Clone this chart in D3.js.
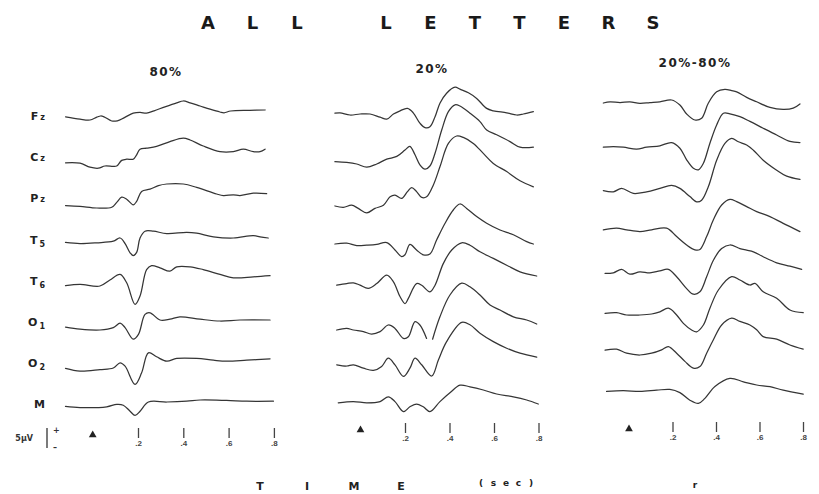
<!DOCTYPE html>
<html>
<head>
<meta charset="utf-8">
<title>All letters</title>
<style>
    html, body { margin: 0; background: #fff; }
    svg { display: block; font-family: "DejaVu Sans", "Liberation Sans", sans-serif; }
    .trace { fill: none; stroke: #353535; stroke-width: 1.25; stroke-linejoin: round; stroke-linecap: round; }
    .tick line { stroke: #444; stroke-width: 1.3; }
    .tick text { font-size: 8px; fill: #444; font-weight: bold; }
</style>
</head>
<body>
<svg id="chart" width="819" height="494"></svg>
<script src="https://cdn.jsdelivr.net/npm/d3@7"></script>
<script>
    "use strict";

    const channels = ["Fz", "Cz", "Pz", "T5", "T6", "O1", "O2", "M"];
    const conditions = ["80%", "20%", "20%-80%"];
    const timeTicks = [0.2, 0.4, 0.6, 0.8];
    const titleText = "ALL LETTERS";
    const axisText = ["T", "I", "M", "E"];
    const unitText = ["(", "s", "e", "c", ")"];

    // [time (s), amplitude (uV)] per channel, positive up
    const wave80 = [
        [[-0.12,0.3],[-0.056,-0.3],[-0.012,-0.5],[0.018,0.2],[0.035,0.5],[0.05,0.3],[0.084,-0.75],[0.109,-0.7],[0.14,0.1],[0.179,1.2],[0.209,1.4],[0.238,1.2],[0.271,1.8],[0.319,2.8],[0.371,3.8],[0.40,4.25],[0.43,3.8],[0.474,3.0],[0.518,2.2],[0.562,1.5],[0.58,1.3],[0.609,1.75],[0.694,1.9],[0.761,2.0]],
        [[-0.12,-0.9],[-0.056,-1.0],[-0.012,-2.0],[0.025,-2.25],[0.054,-1.7],[0.091,-1.8],[0.106,-1.7],[0.128,-0.3],[0.15,0],[0.179,0],[0.194,1.1],[0.209,2.5],[0.238,2.75],[0.282,3.2],[0.341,4.4],[0.40,5.25],[0.43,4.8],[0.488,3.3],[0.562,1.9],[0.621,1.9],[0.665,2.5],[0.709,1.9],[0.739,1.9],[0.761,2.5]],
        [[-0.12,-1.3],[-0.056,-1.5],[0.018,-1.9],[0.084,-1.7],[0.106,-0.5],[0.128,0.8],[0.15,0.3],[0.179,-1.1],[0.194,-0.25],[0.216,2.25],[0.253,2.8],[0.29,3.7],[0.327,4.1],[0.40,4.1],[0.459,3.25],[0.547,1.6],[0.577,1.2],[0.621,1.4],[0.65,1.2],[0.709,1.8],[0.768,1.7]],
        [[-0.12,-0.2],[-0.056,-0.5],[0.018,-0.3],[0.091,0.1],[0.121,0.9],[0.143,-0.5],[0.165,-2.8],[0.179,-3.5],[0.194,-2.7],[0.209,0.9],[0.231,2.6],[0.268,2.6],[0.327,2.0],[0.415,2.3],[0.459,2.1],[0.533,1.2],[0.621,0.9],[0.709,1.5],[0.739,1.2],[0.775,0.9]],
        [[-0.12,-0.7],[-0.056,-0.4],[0.032,-0.8],[0.076,0.7],[0.121,2.1],[0.15,0],[0.187,-5.4],[0.209,-3.3],[0.238,3.3],[0.26,4.3],[0.297,3.75],[0.341,2.9],[0.371,4.0],[0.43,4.0],[0.488,3.3],[0.562,2.1],[0.621,1.25],[0.709,1.5],[0.783,1.8]],
        [[-0.12,-0.8],[-0.056,-1.3],[0.032,-1.5],[0.091,-0.9],[0.121,0.2],[0.143,-0.9],[0.179,-3.8],[0.202,-2.6],[0.231,2.4],[0.253,2.8],[0.297,1.0],[0.341,1.2],[0.385,1.8],[0.474,1.2],[0.562,0.75],[0.65,1.0],[0.783,1.0]],
        [[-0.12,-0.8],[-0.056,-1.5],[0.032,-1.1],[0.091,-0.7],[0.121,0.6],[0.143,-0.25],[0.187,-4.8],[0.216,-1.9],[0.246,3.1],[0.282,2.1],[0.327,1.0],[0.371,1.7],[0.459,1.7],[0.533,1.25],[0.591,1.0],[0.68,1.25],[0.783,1.6]],
        [[-0.12,0],[-0.056,-0.3],[0.062,-0.1],[0.106,0.5],[0.135,0.3],[0.165,-1.2],[0.187,-2.25],[0.209,-1.2],[0.246,1.1],[0.327,1.1],[0.415,1.3],[0.474,1.6],[0.591,1.5],[0.68,1.3],[0.798,1.3]]
    ];

    const wave20 = [
        [[-0.115,1.2],[-0.092,1.3],[-0.047,0.75],[-0.002,1.0],[0.043,1.0],[0.088,0.2],[0.118,-0.3],[0.148,1.0],[0.178,1.8],[0.211,2.4],[0.237,1.3],[0.267,-1.3],[0.29,-2.4],[0.312,-2.2],[0.335,0.3],[0.357,3.7],[0.387,6.2],[0.425,7.7],[0.447,7.2],[0.485,6.3],[0.522,4.9],[0.567,2.4],[0.597,1.8],[0.657,1.3],[0.702,0.75],[0.732,1.0],[0.777,1.6]],
        [[-0.115,-0.6],[-0.062,-0.8],[-0.017,-1.2],[0.028,-2.0],[0.073,-1.2],[0.118,0],[0.163,0.7],[0.2,2.3],[0.222,3.2],[0.245,1.1],[0.267,-1.4],[0.29,-2.5],[0.312,-1.7],[0.335,1.5],[0.365,7.3],[0.395,11.9],[0.425,13.6],[0.447,13.3],[0.492,11.5],[0.537,9.4],[0.567,7.3],[0.612,6.1],[0.672,4.4],[0.717,3.0],[0.777,3.0]],
        [[-0.115,-1.4],[-0.077,-1.75],[-0.04,-1.2],[-0.01,-2.0],[0.028,-3.1],[0.065,-2.0],[0.103,-1.2],[0.133,0.9],[0.155,1.3],[0.185,0.5],[0.211,2.2],[0.23,3.2],[0.252,2.2],[0.275,0.75],[0.297,0.9],[0.327,3.8],[0.357,8.4],[0.395,14.25],[0.432,16.1],[0.462,15.75],[0.507,14.25],[0.552,11.75],[0.597,9.25],[0.657,7.2],[0.717,4.9],[0.777,3.4]],
        [[-0.115,-0.6],[-0.062,-0.4],[-0.017,-1.0],[0.028,-0.9],[0.073,-0.7],[0.118,-0.25],[0.155,-2.1],[0.185,-3.75],[0.2,-3.3],[0.222,-0.7],[0.252,-2.1],[0.282,-3.3],[0.312,-3.1],[0.342,0.4],[0.38,4.6],[0.417,7.9],[0.447,9.4],[0.477,8.3],[0.522,6.25],[0.567,4.6],[0.627,2.9],[0.687,1.7],[0.747,0],[0.777,-0.6]],
        [[-0.107,-0.6],[-0.062,-0.2],[-0.032,0],[-0.002,-0.6],[0.035,-1.4],[0.073,-0.2],[0.118,1.9],[0.148,0.25],[0.178,-3.5],[0.2,-5.2],[0.215,-3.9],[0.252,-0.2],[0.275,-0.6],[0.312,-2.25],[0.335,-0.6],[0.372,4.8],[0.41,8.2],[0.455,10.0],[0.492,9.4],[0.537,7.75],[0.597,6.1],[0.657,4.4],[0.717,2.75],[0.792,1.7]],
        [[-0.107,-1.5],[-0.062,-1.1],[-0.032,-1.5],[0.013,-1.9],[0.05,-2.5],[0.088,-1.9],[0.125,-0.25],[0.155,-1.1],[0.193,-3.6],[0.215,-3.2],[0.245,0.6],[0.267,-0.25],[0.297,-3.6],null,[0.324,-3.8],[0.357,1.8],[0.402,7.25],[0.455,10.2],[0.492,9.3],[0.537,7.25],[0.582,4.75],[0.627,3.5],[0.687,1.8],[0.747,1.0],[0.792,0]],
        [[-0.107,0.1],[-0.062,-0.2],[-0.032,0.1],[0.013,-0.75],[0.058,-1.3],[0.095,-0.3],[0.125,1.75],[0.155,0.1],[0.193,-2.8],[0.222,-0.75],[0.245,1.75],[0.275,0.1],[0.32,-2.7],[0.35,1.3],[0.387,5.9],[0.455,10.7],[0.492,10.1],[0.537,8.0],[0.597,5.9],[0.657,4.25],[0.717,3.0],[0.792,2.0]],
        [[-0.1,0.9],[-0.032,1.2],[0.028,0.9],[0.088,1.2],[0.125,2.4],[0.155,1.2],[0.193,-1.3],[0.222,-0.1],[0.252,0.6],[0.282,-0.1],[0.312,-1.3],[0.357,1.2],[0.402,3.4],[0.447,5.3],[0.492,4.9],[0.552,4.1],[0.612,3.1],[0.687,2.4],[0.747,1.6],[0.799,0.6]]
    ];

    const waveDiff = [
        [[-0.118,0],[-0.087,0.3],[-0.041,0.1],[0.004,0.3],[0.05,-0.1],[0.096,0.1],[0.142,0.3],[0.196,0.75],[0.234,-0.5],[0.265,-2.75],[0.303,-4.25],[0.334,-3.8],[0.365,0],[0.403,2.8],[0.441,3.4],[0.472,3.1],[0.495,2.8],[0.541,1.4],[0.587,0.3],[0.648,-1.1],[0.709,-1.6],[0.755,-1.3],[0.786,-0.25]],
        [[-0.118,-0.75],[-0.072,-0.6],[-0.026,-0.75],[0.035,-1.25],[0.081,-0.75],[0.142,-0.4],[0.196,0.4],[0.234,-1.0],[0.265,-3.9],[0.296,-6.0],[0.319,-6.4],[0.342,-4.75],[0.372,0.25],[0.403,4.8],[0.434,7.75],[0.464,7.6],[0.51,6.9],[0.556,5.7],[0.617,4.0],[0.679,2.3],[0.74,0.7],[0.786,0.4]],
        [[-0.118,-1.3],[-0.072,-1.6],[-0.034,-0.75],[0.02,-2.0],[0.081,-1.6],[0.142,-0.75],[0.196,0],[0.234,-0.75],[0.28,-2.8],[0.311,-4.1],[0.334,-3.7],[0.365,-0.3],[0.403,6.3],[0.441,10.5],[0.472,11.75],[0.503,10.9],[0.541,10.1],[0.572,8.8],[0.617,6.3],[0.679,3.8],[0.725,2.3],[0.786,1.5]],
        [[-0.118,-0.8],[-0.057,-0.4],[-0.011,-0.8],[0.05,-1.25],[0.104,-0.8],[0.173,-0.4],[0.219,-2.5],[0.265,-4.6],[0.303,-5.8],[0.326,-5.7],[0.357,-2.5],[0.388,1.7],[0.426,5.4],[0.464,6.8],[0.495,6.25],[0.541,5.0],[0.587,3.75],[0.648,2.5],[0.709,0.8],[0.786,-1.25]],
        [[-0.11,-1.4],[-0.072,-1.25],[-0.034,-0.4],[0.004,-1.6],[0.05,-1.0],[0.096,-1.25],[0.142,-0.75],[0.181,-0.4],[0.219,-2.25],[0.265,-5.2],[0.296,-6.6],[0.326,-6.0],[0.357,-2.25],[0.388,1.9],[0.426,4.8],[0.464,5.7],[0.51,4.8],[0.541,4.4],[0.572,4.0],[0.617,2.75],[0.679,1.25],[0.74,0.4],[0.794,-0.4]],
        [[-0.11,-1.1],[-0.057,-0.9],[-0.011,-1.5],[0.05,-1.5],[0.104,-1.25],[0.142,-0.7],[0.181,0.2],[0.219,-1.5],[0.25,-3.6],[0.288,-5.25],[0.311,-5.7],[0.342,-4.0],[0.372,0.2],[0.411,4.75],[0.472,8.1],[0.51,7.25],[0.556,6.0],[0.579,6.4],[0.617,4.3],[0.679,2.7],[0.74,-0.25],[0.801,-0.9]],
        [[-0.11,0],[-0.057,0.25],[-0.011,-0.75],[0.05,-1.2],[0.104,-0.75],[0.15,0.1],[0.181,0.9],[0.219,-0.75],[0.257,-2.8],[0.296,-4.5],[0.326,-4.1],[0.357,-0.75],[0.388,2.6],[0.426,6.3],[0.472,8.0],[0.51,7.2],[0.556,6.3],[0.587,5.1],[0.617,3.4],[0.679,2.75],[0.74,1.3],[0.801,0.25]],
        [[-0.103,0],[-0.026,0.2],[0.05,0],[0.127,0.3],[0.188,0.5],[0.234,-0.3],[0.28,-2.2],[0.319,-3.0],[0.349,-1.75],[0.395,1.2],[0.464,3.25],[0.526,2.4],[0.587,1.6],[0.648,1.2],[0.709,0.3],[0.801,-0.7]]
    ];

    const waves = [wave80, wave20, waveDiff];

    // layout of the three columns
    const panels = [
        {x0: 92.7, x8: 273.9, top: 118, axisY: 428, headX: 166, headY: 76},
        {x0: 360.5, x8: 538.5, top: 118, axisY: 423, headX: 432, headY: 73},
        {x0: 629, x8: 803, top: 103, axisY: 422, headX: 695, headY: 67}
    ];
    const rowStep = 41.2;
    const amp = d3.scaleLinear().domain([0, 1]).range([0, -4]);  // 4 px per uV

    const svg = d3.select("#chart");

    // title, spaced capitals
    svg.append("g").selectAll("text")
        .data(titleText.split(""))
        .join("text")
        .attr("x", (d, i) => 208 + i * 44.5)
        .attr("y", 29)
        .attr("text-anchor", "middle")
        .attr("font-size", 18)
        .attr("font-weight", "bold")
        .attr("fill", "#1a1a1a")
        .text(d => d);

    panels.forEach(function (p, k) {
        const x = d3.scaleLinear().domain([0, 0.8]).range([p.x0, p.x8]);
        const row = d3.scalePoint().domain(channels).range([p.top, p.top + rowStep * (channels.length - 1)]);
        const g = svg.append("g");

        g.append("text")
            .attr("x", p.headX)
            .attr("y", p.headY)
            .attr("text-anchor", "middle")
            .attr("font-size", 12)
            .attr("font-weight", "bold")
            .attr("letter-spacing", 1.5)
            .attr("fill", "#222")
            .text(conditions[k]);

        const line = d3.line()
            .defined(d => d !== null)
            .x(d => x(d[0]))
            .y(d => amp(d[1]))
            .curve(d3.curveCatmullRom.alpha(0.5));

        g.selectAll("path.trace")
            .data(waves[k])
            .join("path")
            .attr("class", "trace")
            .attr("transform", (d, i) => "translate(0," + row(channels[i]) + ")")
            .attr("d", line);

        const axis = d3.axisBottom(x)
            .tickValues(timeTicks)
            .tickSize(10)
            .tickPadding(2)
            .tickFormat(d => d3.format(".1f")(d).replace(/^0/, ""));
        const ax = g.append("g")
            .attr("transform", "translate(0," + p.axisY + ")")
            .call(axis);
        ax.select(".domain").remove();

        // stimulus onset marker
        g.append("path")
            .attr("d", d3.symbol().type(d3.symbolTriangle).size(26))
            .attr("transform", "translate(" + x(0) + "," + (p.axisY + 7) + ")")
            .attr("fill", "#222");
    });

    // channel labels, left column
    const rowLab = d3.scalePoint().domain(channels).range([panels[0].top, panels[0].top + rowStep * 7]);
    const lab = svg.append("g").selectAll("text")
        .data(channels)
        .join("text")
        .attr("x", 45)
        .attr("y", d => rowLab(d) + 2)
        .attr("text-anchor", "end")
        .attr("font-size", 11)
        .attr("font-weight", "bold")
        .attr("fill", "#222");
    lab.append("tspan").text(d => d[0]);
    lab.append("tspan")
        .attr("font-size", 8)
        .attr("dx", 2)
        .attr("dy", d => /\d/.test(d.slice(1)) ? 3 : 0)
        .text(d => d.slice(1));

    // 5 uV calibration bar
    const calY = 428;
    const cal = svg.append("g").attr("fill", "#333").attr("font-weight", "bold");
    cal.append("line")
        .attr("x1", 47).attr("x2", 47)
        .attr("y1", calY).attr("y2", calY - amp(5))
        .attr("stroke", "#333").attr("stroke-width", 1.3);
    cal.append("text").attr("x", 33).attr("y", calY + 13).attr("text-anchor", "end")
        .attr("font-size", 8).text("5\u00b5V");
    cal.append("text").attr("x", 53).attr("y", calY + 5).attr("font-size", 8).text("+");
    cal.append("text").attr("x", 53).attr("y", calY + 22).attr("font-size", 8).text("\u2013");

    // time axis caption
    const cap = svg.append("g").attr("font-weight", "bold").attr("fill", "#222").attr("text-anchor", "middle");
    cap.selectAll("text.t")
        .data(axisText)
        .join("text")
        .attr("class", "t")
        .attr("x", (d, i) => 260 + i * 47)
        .attr("y", 490)
        .attr("font-size", 11)
        .text(d => d);
    cap.selectAll("text.u")
        .data(unitText)
        .join("text")
        .attr("class", "u")
        .attr("x", (d, i) => 481 + i * 12.5)
        .attr("y", 486)
        .attr("font-size", 9)
        .text(d => d);
    cap.append("text").attr("x", 695).attr("y", 488).attr("font-size", 9).text("r");
</script>
</body>
</html>
